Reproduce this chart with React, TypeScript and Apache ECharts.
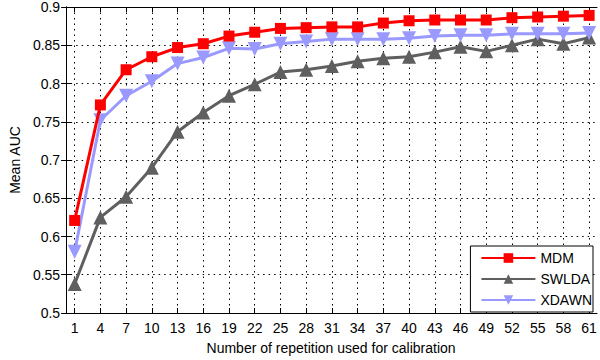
import React, { useEffect, useRef } from "react";
import * as echarts from "echarts";

const xTicks = [1, 4, 7, 10, 13, 16, 19, 22, 25, 28, 31, 34, 37, 40, 43, 46, 49, 52, 55, 58, 61];
const mdm = [0.621, 0.772, 0.818, 0.835, 0.847, 0.852, 0.862, 0.867, 0.872, 0.873, 0.874, 0.874, 0.879, 0.882, 0.883, 0.883, 0.883, 0.886, 0.887, 0.888, 0.889];
const swlda = [0.538, 0.625, 0.652, 0.69, 0.737, 0.762, 0.784, 0.799, 0.815, 0.818, 0.823, 0.829, 0.833, 0.835, 0.841, 0.848, 0.842, 0.85, 0.858, 0.852, 0.86];
const xdawn = [0.58, 0.752, 0.784, 0.803, 0.826, 0.834, 0.846, 0.845, 0.852, 0.855, 0.858, 0.858, 0.858, 0.859, 0.862, 0.863, 0.863, 0.865, 0.865, 0.865, 0.866];
const yTickLabels = ["0.5", "0.55", "0.6", "0.65", "0.7", "0.75", "0.8", "0.85", "0.9"];

const FONT = "Liberation Sans, Arial, Helvetica, sans-serif";

export default function App() {
  const ref = useRef<HTMLDivElement>(null);
  useEffect(() => {
    if (!ref.current) return;
    const chart = echarts.init(ref.current, null, { renderer: "svg" });
    const pts = (arr: number[]) => arr.map((v, i) => [xTicks[i], v]);
    const dotted = { show: true, lineStyle: { color: "#000", type: [1.5, 4] as any, width: 1 } };
    const tickStyle = { show: true, inside: true, length: 5, lineStyle: { color: "#000", width: 1 } };
    const mkX = (pos: "top" | "bottom", main: boolean) => ({
      type: "value" as const,
      position: pos,
      min: -0.11,
      max: 61.92,
      axisLine: { show: true, lineStyle: { color: "#000", width: 1 } },
      axisTick: { ...tickStyle, customValues: xTicks },
      axisLabel: {
        show: main,
        customValues: xTicks,
        color: "#000",
        fontSize: 14,
        fontFamily: FONT,
        margin: 8,
      },
      splitLine: main ? dotted : { show: false },
      name: main ? "Number of repetition used for calibration" : "",
      nameLocation: "middle" as const,
      nameGap: 28,
      nameTextStyle: { color: "#000", fontSize: 14, fontFamily: FONT },
    });
    const mkY = (pos: "left" | "right", main: boolean) => ({
      type: "value" as const,
      position: pos,
      min: 0.5,
      max: 0.9,
      interval: 0.05,
      axisLine: { show: true, lineStyle: { color: "#000", width: 1 } },
      axisTick: tickStyle,
      axisLabel: {
        show: main,
        color: "#000",
        fontSize: 14,
        fontFamily: FONT,
        margin: 5,
        formatter: (v: number) => yTickLabels[Math.round((v - 0.5) / 0.05)] ?? "",
      },
      splitLine: main ? dotted : { show: false },
      name: main ? "Mean AUC" : "",
      nameLocation: "middle" as const,
      nameGap: 43,
      nameTextStyle: { color: "#000", fontSize: 14, fontFamily: FONT },
    });
    chart.setOption({
      animation: false,
      backgroundColor: "#fff",
      grid: { left: 57, right: 3, top: 4, bottom: 42, containLabel: false },
      xAxis: [mkX("bottom", true), mkX("top", false)],
      yAxis: [mkY("left", true), mkY("right", false)],
      legend: {
        orient: "vertical",
        right: 7,
        bottom: 48,
        backgroundColor: "#fff",
        borderColor: "#000",
        borderWidth: 1,
        borderRadius: 0,
        padding: [5, 1, 5, 10],
        itemWidth: 54,
        itemHeight: 12,
        itemGap: 7,
        textStyle: { color: "#000", fontSize: 14, fontFamily: FONT },
        data: ["MDM", "SWLDA", "XDAWN"],
      },
      series: [
        {
          name: "MDM",
          type: "line",
          data: pts(mdm),
          symbol: "rect",
          symbolSize: 11,
          color: "#ff0000",
          lineStyle: { width: 3, color: "#ff0000" },
          itemStyle: { color: "#ff0000" },
          z: 4,
        },
        {
          name: "SWLDA",
          type: "line",
          data: pts(swlda),
          symbol: "triangle",
          symbolSize: 14,
          color: "#5f5f5f",
          lineStyle: { width: 3, color: "#5f5f5f" },
          itemStyle: { color: "#5f5f5f" },
          z: 2,
        },
        {
          name: "XDAWN",
          type: "line",
          data: pts(xdawn),
          symbol: "triangle",
          symbolRotate: 180,
          symbolSize: 14,
          color: "#9999ff",
          lineStyle: { width: 3, color: "#9999ff" },
          itemStyle: { color: "#9999ff" },
          z: 3,
        },
      ],
    });
    return () => chart.dispose();
  }, []);
  return (
    <div
      ref={ref}
      style={{ position: "fixed", left: 0, top: 0, width: 600, height: 360 }}
    />
  );
}
